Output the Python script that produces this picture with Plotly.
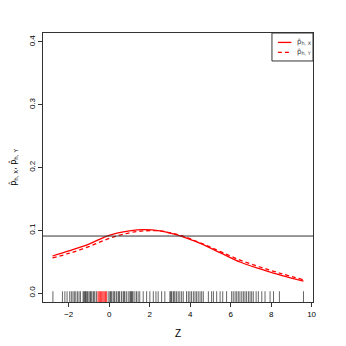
import plotly.graph_objects as go

# smoothed curves
z_grid = [-2.8, -2.0, -1.0, 0.0, 1.0, 1.7, 2.5, 3.5, 4.5, 5.5, 6.5, 7.5, 8.5, 9.6]
p_hx = [0.059, 0.067, 0.078, 0.092, 0.099, 0.101, 0.099, 0.091, 0.079, 0.064, 0.049, 0.038, 0.028, 0.019]
p_hy = [0.056, 0.063, 0.074, 0.087, 0.096, 0.099, 0.099, 0.092, 0.080, 0.066, 0.052, 0.041, 0.031, 0.021]

h_level = 0.0908

# observed Z values for the rug
z_rug = [-2.78, -2.31, -2.19, -2.08, -1.95, -1.87, -1.79, -1.72, -1.65, -1.57,
         -1.49, -1.42, -1.29, -1.25, -1.21, -1.17, -1.13, -1.08, -1.04, -0.96,
         -0.92, -0.88, -0.80, -0.76, -0.71, -0.63, -0.05, 0.03, 0.07, 0.11,
         0.19, 0.24, 0.28, 0.36, 0.44, 0.48, 0.52, 0.61, 0.69, 0.73, 0.77,
         0.85, 0.94, 1.02, 1.06, 1.10, 1.14, 1.18, 1.27, 1.35, 1.43, 1.51,
         1.68, 1.85, 2.01, 2.18, 2.31, 2.42, 2.59, 2.75, 3.00, 3.04, 3.08,
         3.16, 3.20, 3.25, 3.33, 3.41, 3.49, 3.58, 3.66, 3.82, 3.91, 3.99,
         4.07, 4.16, 4.24, 4.32, 4.40, 4.49, 4.57, 4.65, 4.90, 5.06, 5.15,
         5.31, 5.48, 5.61, 5.80, 6.05, 6.13, 6.22, 6.30, 6.38, 6.46, 6.55,
         6.63, 6.71, 6.79, 6.88, 6.96, 7.04, 7.12, 7.26, 7.37, 7.54, 7.70,
         7.95, 8.12, 8.41, 9.60]
z_rug_red = [-0.55, -0.49, -0.43, -0.37, -0.31, -0.25, -0.19, -0.14]

x_ticks = [-2, 0, 2, 4, 6, 8, 10]
y_ticks = [0.0, 0.1, 0.2, 0.3, 0.4]

lab_x = 'p̂<sub>h, X</sub>'
lab_y = 'p̂<sub>h, Y</sub>'
hat_font = 'DejaVu Sans, Liberation Sans, sans-serif'

fig = go.Figure()

fig.add_trace(go.Scatter(
    x=z_rug, y=[-0.0072] * len(z_rug), mode='markers', showlegend=False,
    marker=dict(symbol='line-ns', size=9,
                line=dict(color='rgba(0,0,0,0.6)', width=1)),
    hoverinfo='skip'))
fig.add_trace(go.Scatter(
    x=z_rug_red, y=[-0.0072] * len(z_rug_red), mode='markers', showlegend=False,
    marker=dict(symbol='line-ns', size=9,
                line=dict(color='rgba(255,0,0,0.75)', width=1.2)),
    hoverinfo='skip'))

fig.add_trace(go.Scatter(x=z_grid, y=p_hx, mode='lines', line_shape='spline',
                         line=dict(color='red', width=1.3), showlegend=False))
fig.add_trace(go.Scatter(x=z_grid, y=p_hy, mode='lines', line_shape='spline',
                         line=dict(color='red', width=1.3, dash='4px,3px'),
                         showlegend=False))

fig.add_shape(type='line', xref='paper', x0=0, x1=1, yref='y', y0=h_level, y1=h_level,
              line=dict(color='#333333', width=1))

# legend box drawn by hand, R style
fig.add_shape(type='rect', xref='paper', yref='paper', x0=0.848, x1=1.0, y0=0.896, y1=1.0,
              line=dict(color='#333333', width=1), fillcolor='white')
fig.add_shape(type='line', xref='paper', yref='paper', x0=0.87, x1=0.92, y0=0.965, y1=0.965,
              line=dict(color='red', width=1.3))
fig.add_shape(type='line', xref='paper', yref='paper', x0=0.87, x1=0.92, y0=0.928, y1=0.928,
              line=dict(color='red', width=1.3, dash='4px,3px'))
for txt, yy in [(lab_x, 0.965), (lab_y, 0.928)]:
    fig.add_annotation(xref='paper', yref='paper', x=0.935, y=yy, text=txt,
                       showarrow=False, xanchor='left', yanchor='middle',
                       font=dict(family=hat_font, size=7, color='#333333'))

# page body has an 8px margin, so the figure is a bit smaller than the window
fig.update_layout(
    width=338, height=338,
    margin=dict(l=35, r=33, t=25, b=44),
    plot_bgcolor='white', paper_bgcolor='white',
    font=dict(family='Liberation Sans, Arial, sans-serif', size=8, color='black'),
    showlegend=False,
    xaxis=dict(range=[-3.27, 10.07], tickvals=x_ticks, showgrid=False, zeroline=False,
               automargin=False,
               showline=True, mirror=True, linecolor='#333333', linewidth=1,
               ticks='outside', ticklen=4, tickcolor='#333333',
               title=dict(text='Z', font=dict(size=10), standoff=12)),
    yaxis=dict(range=[-0.0143, 0.4143], tickvals=y_ticks, tickformat='.1f',
               showgrid=False, zeroline=False, automargin=False,
               showline=True, mirror=True, linecolor='#333333', linewidth=1,
               ticks='outside', ticklen=4, tickcolor='#333333', tickangle=-90,
               title=dict(text=lab_x + ', ' + lab_y,
                          font=dict(family=hat_font, size=8), standoff=12)),
)

fig.write_html("out.html")
